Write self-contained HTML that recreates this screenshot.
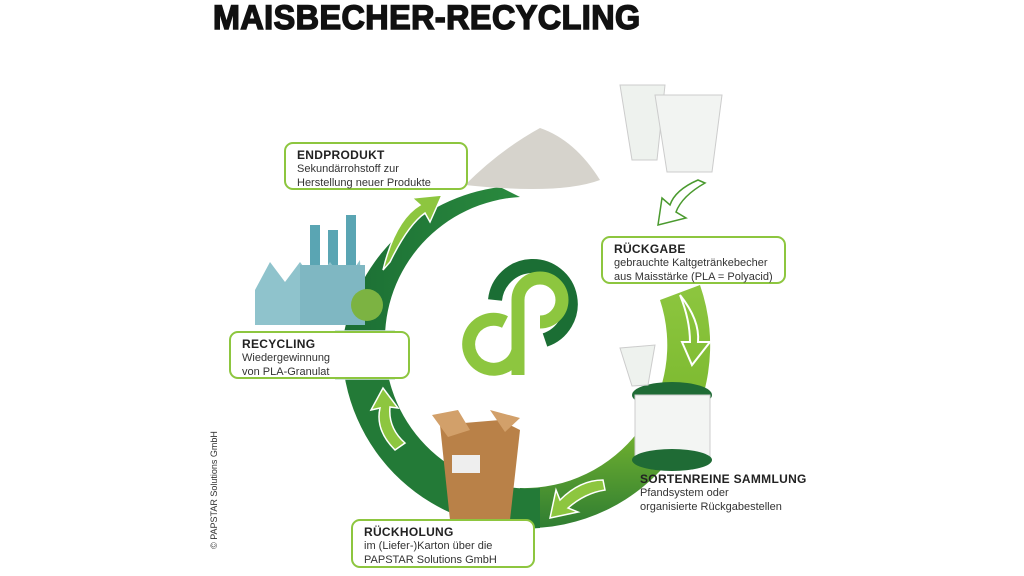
<!DOCTYPE html>
<html><head><meta charset="utf-8"><style>
body{margin:0;width:1024px;height:576px;background:#fff;overflow:hidden;position:relative;font-family:"Liberation Sans",sans-serif}
.t{position:absolute;left:213px;top:-1px;font-weight:900;font-size:34px;color:#111;letter-spacing:0.5px;transform:scaleX(0.95);transform-origin:left top;-webkit-text-stroke:1.5px #111}
.box{position:absolute;background:#fff;border:2px solid #8dc63f;border-radius:9px;box-sizing:border-box;padding:4px 0 0 11px;font-size:11px;line-height:14px;color:#333}
.box b,.s b{font-size:12px;color:#222;display:block;letter-spacing:.3px}
.s{position:absolute;font-size:11px;line-height:14px;color:#333}
.c{position:absolute;left:155px;top:485px;transform:rotate(-90deg);font-size:9px;color:#333;white-space:nowrap;transform-origin:center}
</style></head><body>
<div class="t">MAISBECHER-RECYCLING</div>
<svg width="1024" height="576" style="position:absolute;left:0;top:0">
<defs>
<linearGradient id="gr" x1="0" y1="0" x2="0" y2="1"><stop offset="0" stop-color="#8dc63f"/><stop offset=".55" stop-color="#7ab82e"/><stop offset="1" stop-color="#2f7d32"/></linearGradient>
<linearGradient id="gl" x1="0" y1="0" x2="1" y2="0"><stop offset="0" stop-color="#1b6e34"/><stop offset="1" stop-color="#2a8a3e"/></linearGradient>
</defs>
<path d="M 700 285 A 183 183 0 0 1 520 528 L 520 488 A 143 143 0 0 0 660 300 Z" fill="url(#gr)"/>
<path d="M 540 528 A 183 183 0 0 1 342 345 L 385 345 A 143 143 0 0 0 540 488 Z" fill="#237a37"/>
<path d="M 342 345 A 183 183 0 0 1 500 187 L 520 197 A 143 143 0 0 0 385 345 Z" fill="url(#gl)"/>
<rect x="335" y="330" width="60" height="50" fill="#c8e0d2" opacity=".8"/>
<path d="M383 270 Q395 220 420 205 L412 198 L442 195 L430 222 L425 213 Q408 225 390 262 Z" fill="#8dc63f" stroke="#fff" stroke-width="1.5"/>
<path d="M395 450 Q375 430 380 408 L371 410 L383 388 L398 408 L390 407 Q388 428 405 443 Z" fill="#8dc63f" stroke="#fff" stroke-width="1.5"/>
<path d="M603 480 Q580 480 560 500 L556 490 L550 518 L578 512 L568 508 Q585 493 605 490 Z" fill="#8dc63f" stroke="#fff" stroke-width="1.5"/>
<path d="M680 295 Q700 320 698 342 L710 342 L692 365 L682 342 L690 342 Q690 320 680 295 Z" fill="none" stroke="#fff" stroke-width="2"/>
<path d="M698 180 Q675 190 670 205 L662 198 L658 225 L686 218 L676 212 Q682 196 705 183 Z" fill="#fff" stroke="#4a9a2e" stroke-width="1.5"/>
<path d="M495 300 A38 38 0 1 1 545 340" fill="none" stroke="#1b6e34" stroke-width="14"/>
<path d="M518 375 L518 300 A22 22 0 1 1 540 322" fill="none" stroke="#8dc63f" stroke-width="13"/>
<path d="M518 350 A25 25 0 1 1 505 322" fill="none" stroke="#8dc63f" stroke-width="13"/>
<path d="M465 185 Q500 150 540 128 Q575 140 600 180 Q560 195 465 185 Z" fill="#d6d3cc"/>
<path d="M620 85 L665 85 L657 160 L632 160 Z" fill="#eef2ee" stroke="#ccc"/>
<path d="M655 95 L722 95 L712 172 L667 172 Z" fill="#f2f4f2" stroke="#ccc"/>
<rect x="310" y="225" width="10" height="40" fill="#5aa5b3"/><rect x="328" y="230" width="10" height="35" fill="#5aa5b3"/><rect x="346" y="215" width="10" height="50" fill="#5aa5b3"/>
<path d="M255 290 L270 262 L285 282 L300 262 L315 282 L330 262 L345 282 L360 260 L362 325 L255 325 Z" fill="#8fc3cc"/>
<rect x="300" y="265" width="65" height="60" fill="#7fb7c2"/>
<circle cx="367" cy="305" r="16" fill="#7cb342"/>
<path d="M440 425 L500 420 L520 430 L510 520 L450 520 Z" fill="#b98148"/>
<path d="M432 415 L458 410 L470 430 L448 437 Z M490 410 L520 418 L505 432 Z" fill="#d2a06a"/>
<rect x="452" y="455" width="28" height="18" fill="#eee"/>
<ellipse cx="672" cy="395" rx="40" ry="13" fill="#1f6b35"/>
<rect x="635" y="395" width="75" height="65" fill="#f3f5f3" stroke="#ccc"/>
<ellipse cx="672" cy="460" rx="40" ry="11" fill="#1f6b35"/>
<path d="M620 348 L655 345 L648 385 L632 386 Z" fill="#eef2ee" stroke="#ccc"/>
</svg>
<div class="box" style="left:284px;top:142px;width:184px;height:48px"><b>ENDPRODUKT</b>Sekundärrohstoff zur<br>Herstellung neuer Produkte</div>
<div class="box" style="left:601px;top:236px;width:185px;height:48px"><b>RÜCKGABE</b>gebrauchte Kaltgetränkebecher<br>aus Maisstärke (PLA = Polyacid)</div>
<div class="box" style="left:229px;top:331px;width:181px;height:48px"><b>RECYCLING</b>Wiedergewinnung<br>von PLA-Granulat</div>
<div class="s" style="left:640px;top:472px"><b>SORTENREINE SAMMLUNG</b>Pfandsystem oder<br>organisierte Rückgabestellen</div>
<div class="box" style="left:351px;top:519px;width:184px;height:49px"><b>RÜCKHOLUNG</b>im (Liefer-)Karton über die<br>PAPSTAR Solutions GmbH</div>
<div class="c">© PAPSTAR Solutions GmbH</div>
</body></html>
